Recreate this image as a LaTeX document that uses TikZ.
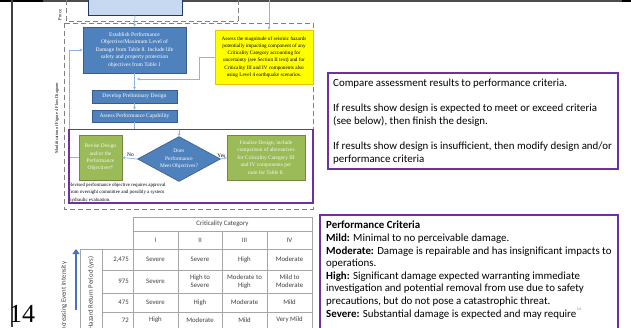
\documentclass[tikz,border=0pt]{standalone}
\usepackage{fontspec}
\setmainfont{Liberation Serif}
\newfontfamily\calfont{Carlito}
\usetikzlibrary{arrows.meta,shapes.geometric}
\definecolor{bluebox}{HTML}{4F81BD}
\definecolor{blueborder}{HTML}{385D8A}
\definecolor{lightbox}{HTML}{C6D9F1}
\definecolor{navy}{HTML}{1F3864}
\definecolor{ylw}{HTML}{FFFF00}
\definecolor{ylwborder}{HTML}{E6C200}
\definecolor{grn}{HTML}{9BBB59}
\definecolor{grnborder}{HTML}{71893F}
\definecolor{purp}{HTML}{7030A0}
\definecolor{conn}{HTML}{8EB4E3}
\definecolor{dashgray}{HTML}{808080}
\definecolor{gridgray}{HTML}{A6A6A6}
\definecolor{celltext}{HTML}{404040}
\definecolor{arrowblue}{HTML}{4472C4}
\begin{document}
\begin{tikzpicture}[x=1pt,y=-1pt,
  bluenode/.style={draw=blueborder, fill=bluebox, text=white, align=center, inner sep=0pt, line width=0.6pt, font=\fontsize{5.6}{7.6}\selectfont},
  greennode/.style={draw=grnborder, fill=grn, text=white!92!grn, align=center, inner sep=0pt, line width=0.6pt, font=\fontsize{5.4}{7.4}\selectfont},
  connarrow/.style={draw=conn, line width=0.7pt, -{Stealth[length=3pt,width=3pt]}},
  dashbox/.style={draw=dashgray, dash pattern=on 5pt off 3pt, line width=0.8pt},
  purpbox/.style={draw=purp, line width=1.3pt},
  gridline/.style={draw=gridgray, line width=0.5pt},
  cell/.style={text=celltext, font=\calfont\fontsize{6.8}{8.2}\selectfont, align=center, inner sep=0pt},
  bigtext/.style={font=\calfont\fontsize{10.9}{12.6}\selectfont, align=left, inner sep=0pt, anchor=north west}
]
\useasboundingbox (0,0) rectangle (631,327);
\clip (0,0) rectangle (631,327);
\fill[white] (0,0) rectangle (631,327);

% slide frame
\draw[black!70, line width=1.6pt] (0,0.8) -- (631,0.8);
\draw[black, line width=2pt] (0,0.8) -- (43,0.8);
\draw[black, line width=2pt] (622,0.8) -- (631,0.8);
\draw[black!75, line width=2.4pt] (12,0) -- (12,327);
\node[anchor=west, inner sep=0pt, font=\fontsize{26}{26}\selectfont] (pagenum) at (9,314) {14};

% dashed boxes
\draw[dashbox] (66,0) -- (66,21) -- (238,21);
\draw[dashbox] (238,0) -- (238,21);
\draw[dashbox] (64,23) rectangle (313,209);
\node[rotate=90, inner sep=0pt, font=\fontsize{4.6}{5}\selectfont] (proclabel) at (60,15) {Proce};
\node[rotate=90, inner sep=0pt, font=\fontsize{4.4}{5}\selectfont] (modlabel) at (57,118) {Modification of Figure 4 Flow Diagram};

% flow nodes
\node[draw=navy, fill=lightbox, line width=1pt, minimum width=94pt, minimum height=24pt, inner sep=0pt] (prev) at (135,3) {};
\node[bluenode, minimum width=103pt, minimum height=46pt] (est) at (134.5,50)
  {Establish Performance\\Objective/Maximum Level of\\Damage from Table 8. Include life\\safety and property protection\\objectives from Table 1};
\node[draw=ylwborder, fill=ylw, text=black, align=center, inner sep=0pt, line width=0.6pt, minimum width=98pt, minimum height=54pt, font=\fontsize{5.2}{7.3}\selectfont] (yel) at (264,57)
  {Assess the magnitude of seismic hazards\\potentially impacting component of any\\Criticality Category accounting for\\uncertainty (see Section II text) and for\\Criticality III and IV components also\\using Level 4 earthquake scenarios.};
\node[bluenode, minimum width=85pt, minimum height=13pt] (dev) at (134.5,96.5) {Develop Preliminary Design};
\node[bluenode, minimum width=85pt, minimum height=12pt] (ass) at (134.5,116) {Assess Performance Capability};
\node[diamond, aspect=1.84, draw=blueborder, fill=bluebox, text=white, align=center, inner sep=0pt, line width=0.6pt, minimum width=83pt, minimum height=45pt, font=\fontsize{5.4}{7.4}\selectfont] (dia) at (179,159)
  {Does\\Performance\\Meet Objectives?};
\node[greennode, minimum width=43pt, minimum height=45pt] (rev) at (100.5,157.5)
  {Revise Design\\and/or the\\Performance\\Objectives*};
\node[greennode, minimum width=78pt, minimum height=45pt] (fin) at (266,157.5)
  {Finalize Design, include\\comparison of alternatives\\for Criticality Category III\\and IV components per\\note for Table 8.};
\node[anchor=north west, align=left, inner sep=0pt, font=\fontsize{4.9}{7.2}\selectfont] (note) at (69,183)
  {Revised performance objective requires approval\\from oversight committee and possibly a system\\hydraulic evaluation.};

% connectors
\coordinate (ytop) at (269,0);
\coordinate (yin) at (137,79);
\draw[connarrow] (prev.south) -- (est.north);
\draw[connarrow] (ytop) -- (ytop |- yel.north);
\draw[connarrow] (yel.west) -- ++(-15,0) |- (yin);
\draw[connarrow] (est.south) -- (dev.north);
\draw[connarrow] (dev.south) -- (ass.north);
\draw[connarrow] (ass.south) -- ++(0,7) -| (dia.north);
\draw[connarrow] (dia.west) -- node[above, pos=0.45, text=black, inner sep=1pt, font=\fontsize{5.4}{6}\selectfont] {No} (rev.east);
\draw[connarrow] (dia.east) -- node[above, pos=0.1, text=black, inner sep=1pt, font=\fontsize{5.4}{6}\selectfont] {Yes} (fin.west);
\draw[connarrow] (rev.west) -- ++(-9,0) |- (est.west);

% purple box around decision
\draw[purpbox] (69,129.5) rectangle (313,203);

% right text boxes
\draw[purpbox] (328,73) rectangle (618,169);
\node[bigtext] (cmp) at (333,79)
  {Compare assessment results to performance criteria.\\[12.6pt]
   If results show design is expected to meet or exceed criteria\\(see below), then finish the design.\\[12.6pt]
   If results show design is insufficient, then modify design and/or\\performance criteria};
\draw[purpbox] (320,215) rectangle (618,340);
\node[bigtext] (crit) at (326,221)
  {\textbf{Performance Criteria}\\
   \textbf{Mild:} Minimal to no perceivable damage.\\
   \textbf{Moderate:} Damage is repairable and has insignificant impacts to\\
   operations.\\
   \textbf{High:} Significant damage expected warranting immediate\\
   investigation and potential removal from use due to safety\\
   precautions, but do not pose a catastrophic threat.\\
   \textbf{Severe:} Substantial damage is expected and may require};
\node[inner sep=0pt, text=gray, font=\calfont\fontsize{4}{4}\selectfont] (sup) at (579,309) {14};

% table grid
\draw[gridline] (133,217) -- (312,217);
\draw[gridline] (133,231) -- (312,231);
\draw[gridline] (80,249) -- (312,249);
\draw[gridline] (102,270) -- (312,270);
\draw[gridline] (102,293) -- (312,293);
\draw[gridline] (102,312) -- (312,312);
\foreach \cx in {133,312} \draw[gridline] (\cx,217) -- (\cx,330);
\foreach \cx in {178,222,267} \draw[gridline] (\cx,231) -- (\cx,330);
\draw[gridline] (80,249) -- (80,330);
\draw[gridline] (102,249) -- (102,330);

% table text
\node[cell] (hdr) at (222.5,224) {Criticality Category};
\node[cell] (h1) at (155.5,240) {I};
\node[cell] (h2) at (200,240) {II};
\node[cell] (h3) at (244.5,240) {III};
\node[cell] (h4) at (289.5,240) {IV};
\node[cell, anchor=east] (v1) at (129,259.5) {2,475};
\node[cell, anchor=east] (v2) at (129,281.5) {975};
\node[cell, anchor=east] (v3) at (129,302.5) {475};
\node[cell, anchor=east] (v4) at (129,320) {72};
\node[cell] (a1) at (155.5,259.5) {Severe};
\node[cell] (a2) at (200,259.5) {Severe};
\node[cell] (a3) at (244.5,259.5) {High};
\node[cell] (a4) at (289.5,259.5) {Moderate};
\node[cell] (b1) at (155.5,281.5) {Severe};
\node[cell] (b2) at (200,281.5) {High to\\Severe};
\node[cell] (b3) at (244.5,281.5) {Moderate to\\High};
\node[cell] (b4) at (289.5,281.5) {Mild to\\Moderate};
\node[cell] (c1) at (155.5,302.5) {Severe};
\node[cell] (c2) at (200,302.5) {High};
\node[cell] (c3) at (244.5,302.5) {Moderate};
\node[cell] (c4) at (289.5,302.5) {Mild};
\node[cell] (d1) at (155.5,320) {High};
\node[cell] (d2) at (200,320) {Moderate};
\node[cell] (d3) at (244.5,320) {Mild};
\node[cell] (d4) at (289.5,320) {Very Mild};
\node[cell, rotate=90] (hrp) at (91,293) {Hazard Return Period (yrs)};
\node[cell, rotate=90] (iei) at (64,297) {Increasing Event Intensity};
\coordinate (arrbot) at (76,310);
\coordinate (arrtop) at (76,249);
\draw[arrowblue, line width=2.6pt, -{Triangle[length=5pt,width=7pt]}] (arrbot) -- (arrtop);
\end{tikzpicture}
\end{document}
